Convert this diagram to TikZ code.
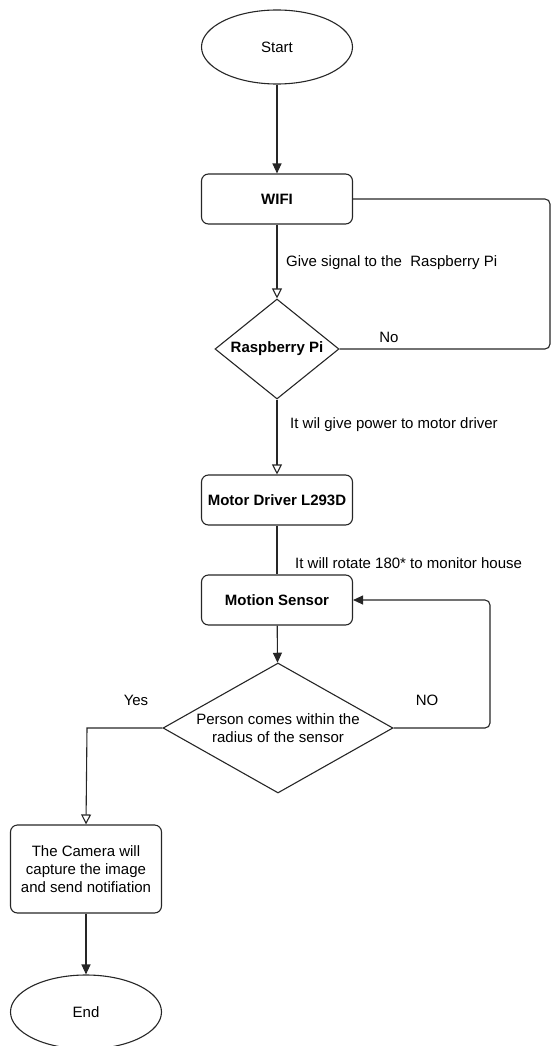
\documentclass[tikz,border=0pt]{standalone}
\usepackage{fontspec}
\setmainfont{Liberation Sans}
\usetikzlibrary{shapes.geometric,arrows.meta}
\begin{document}
\begin{tikzpicture}[x=1pt,y=-1pt,
  every node/.style={font=\fontsize{15}{17.8}\selectfont},
  line/.style={draw=black!85, line width=1.1pt},
  term/.style={ellipse, draw=black!85, line width=1.1pt, minimum width=151pt, minimum height=74pt, inner sep=0pt},
  proc/.style={rectangle, rounded corners=7pt, draw=black!85, line width=1.1pt, minimum width=151pt, minimum height=50pt, inner sep=0pt, align=center},
  dec/.style={diamond, draw=black!85, line width=1.1pt, inner sep=0pt, align=center},
  fill arrow/.style={-{Triangle[length=10pt,width=9pt]}},
  open arrow/.style={-{Triangle[open,length=10pt,width=10pt,fill=white]}},
  lbl/.style={inner sep=0pt}
]
\useasboundingbox (0,0) rectangle (552,1046);
\node[term] (start) at (277,47) {Start};
\node[proc] (wifi) at (277,199) {\textbf{WIFI}};
\node[dec, minimum width=124pt, minimum height=100pt, shape aspect=1.24] (rpi) at (277,349) {\textbf{Raspberry Pi}};
\node[proc] (motor) at (277,500) {\textbf{Motor Driver L293D}};
\node[proc] (motion) at (277,600) {\textbf{Motion Sensor}};
\node[dec, minimum width=230pt, minimum height=130pt, shape aspect=1.77] (person) at (278,728) {Person comes within the\\radius of the sensor};
\node[proc, minimum height=88pt] (camera) at (86,869) {The Camera will\\capture the image\\and send notifiation};
\node[term] (end) at (86,1012) {End};

\coordinate (wr) at (550,199);
\coordinate (wrb) at (550,349);
\coordinate (ny) at (490,728);
\coordinate (nt) at (490,600);
\coordinate (yc) at (87,728);

\draw[line, fill arrow] (start) -- (wifi);
\draw[line, open arrow] (wifi) -- (rpi);
\draw[line, rounded corners=5pt] (wifi.east) -- (wr) -- (wrb) -- (rpi.east);
\draw[line, open arrow] (rpi) -- (motor);
\draw[line] (motor) -- (motion);
\draw[line, fill arrow] (motion) -- (person);
\draw[line, fill arrow, rounded corners=5pt] (person.east) -- (ny) -- (nt) -- (motion.east);
\draw[line, open arrow] (person.west) -- (yc) -- (camera.north);
\draw[line, fill arrow] (camera) -- (end);

\node[lbl, anchor=west] (l1) at (286,263) {Give signal to the\ \ Raspberry Pi};
\node[lbl] (l2) at (389,337) {No};
\node[lbl, anchor=west] (l3) at (290,425) {It wil give power to motor driver};
\node[lbl, anchor=west] (l4) at (295,563) {It will rotate 180* to monitor house};
\node[lbl] (l5) at (136,700) {Yes};
\node[lbl] (l6) at (427,700) {NO};
\end{tikzpicture}
\end{document}
